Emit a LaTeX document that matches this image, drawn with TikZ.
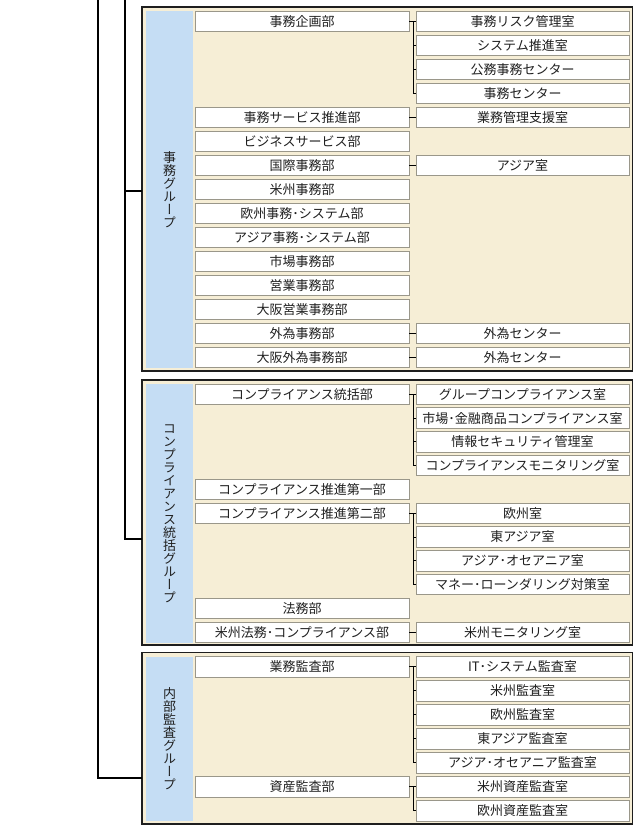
\documentclass[tikz,border=0pt]{standalone}
\usepackage{fontspec}
\newfontfamily\jp{Noto Sans CJK JP}
\newfontfamily\jpv[RawFeature=+vert]{Noto Sans CJK JP}
\definecolor{cream}{HTML}{F6EED6}
\definecolor{bandblue}{HTML}{C5DDF4}
\definecolor{boxline}{HTML}{9A978A}
\definecolor{grpline}{HTML}{1E1E1E}
\definecolor{txt}{HTML}{202020}
\begin{document}
\begin{tikzpicture}[x=1pt,y=-1pt,
  every node/.style={inner sep=0pt, outer sep=0pt},
  grp/.style={rectangle, draw=grpline, line width=1.3pt, fill=cream},
  band/.style={rectangle, fill=bandblue, minimum width=47pt},
  dept/.style={rectangle, draw=boxline, line width=0.9pt, fill=white, minimum width=214pt, minimum height=20.5pt, font=\jp\fontsize{13}{13.5}\selectfont, text=txt},
  sect/.style={dept, minimum width=213pt},
  conn/.style={draw=black, line width=0.9pt},
  vlabel/.style={font=\jpv\fontsize{13}{13}\selectfont, align=center, text=txt}
]
\useasboundingbox (0,0) rectangle (634,830);
\fill[white] (0,0) rectangle (634,830);

% groups
\node[grp, minimum width=490.5pt, minimum height=364pt] (g1) at (387.25,189) {};
\node[grp, minimum width=490.5pt, minimum height=265pt] (g2) at (387.25,512.5) {};
\node[grp, minimum width=490.5pt, minimum height=171.5pt] (g3) at (387.25,738.25) {};

% bands
\node[band, minimum height=357pt] (band1) at (169.5,189.5) {};
\node[band, minimum height=259pt] (band2) at (169.5,513.5) {};
\node[band, minimum height=164pt] (band3) at (169.5,739) {};

\node[vlabel] (v1) at (band1) {事\\務\\グ\\ル\\ー\\プ};
\node[vlabel] (v2) at (band2) {コ\\ン\\プ\\ラ\\イ\\ア\\ン\\ス\\統\\括\\グ\\ル\\ー\\プ};
\node[vlabel] (v3) at (band3) {内\\部\\監\\査\\グ\\ル\\ー\\プ};

% left connectors
\coordinate (otop) at (98,0);
\coordinate (itop) at (125,0);
\coordinate (h1) at (0,191);
\coordinate (h2) at (0,539);
\coordinate (h3) at (0,778);
\draw[conn, line width=1.1pt] (itop) |- (g1.west |- h1);
\draw[conn, line width=1.1pt] (itop) |- (g2.west |- h2);
\draw[conn, line width=1.1pt] (otop) |- (g3.west |- h3);

% group 1
\foreach \i/\t in {0/事務企画部, 4/事務サービス推進部, 5/ビジネスサービス部, 6/国際事務部, 7/米州事務部, 8/欧州事務･システム部, 9/アジア事務･システム部, 10/市場事務部, 11/営業事務部, 12/大阪営業事務部, 13/外為事務部, 14/大阪外為事務部}
  \node[dept] (a\i) at (302, 21.25+24*\i) {\t};
\foreach \i/\t in {0/事務リスク管理室, 1/システム推進室, 2/公務事務センター, 3/事務センター, 4/業務管理支援室, 6/アジア室, 13/外為センター, 14/外為センター}
  \node[sect] (b\i) at (522.5, 21.25+24*\i) {\t};
\foreach \p/\c in {0/0, 0/1, 0/2, 0/3, 4/4, 6/6, 13/13, 14/14}
  \draw[conn] (a\p.east) -- ++(4,0) |- (b\c.west);

% group 2
\foreach \i/\t in {0/コンプライアンス統括部, 4/コンプライアンス推進第一部, 5/コンプライアンス推進第二部, 9/法務部, 10/米州法務･コンプライアンス部}
  \node[dept] (c\i) at (302, 394.25+23.8*\i) {\t};
\foreach \i/\t in {0/グループコンプライアンス室, 1/市場･金融商品コンプライアンス室, 2/情報セキュリティ管理室, 3/コンプライアンスモニタリング室, 5/欧州室, 6/東アジア室, 7/アジア･オセアニア室, 8/マネー･ローンダリング対策室, 10/米州モニタリング室}
  \node[sect] (d\i) at (522.5, 394.25+23.8*\i) {\t};
\foreach \p/\c in {0/0, 0/1, 0/2, 0/3, 5/5, 5/6, 5/7, 5/8, 10/10}
  \draw[conn] (c\p.east) -- ++(4,0) |- (d\c.west);

% group 3
\foreach \i/\t in {0/業務監査部, 5/資産監査部}
  \node[dept] (e\i) at (302, 666.75+24*\i) {\t};
\foreach \i/\t in {0/IT･システム監査室, 1/米州監査室, 2/欧州監査室, 3/東アジア監査室, 4/アジア･オセアニア監査室, 5/米州資産監査室, 6/欧州資産監査室}
  \node[sect] (f\i) at (522.5, 666.75+24*\i) {\t};
\foreach \p/\c in {0/0, 0/1, 0/2, 0/3, 0/4, 5/5, 5/6}
  \draw[conn] (e\p.east) -- ++(4,0) |- (f\c.west);
\end{tikzpicture}
\end{document}
